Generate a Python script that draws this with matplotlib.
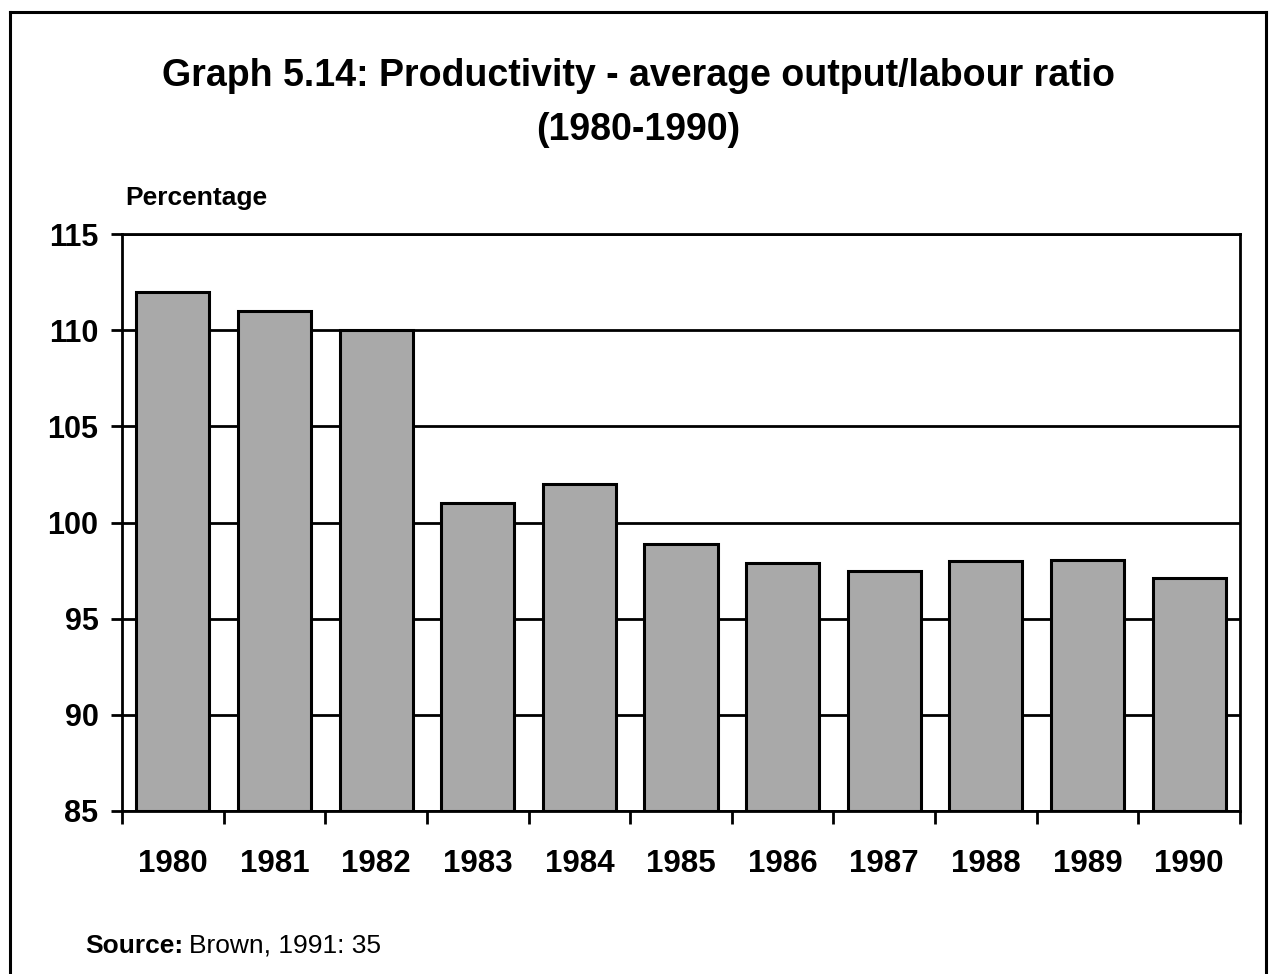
import matplotlib.pyplot as plt
from matplotlib.lines import Line2D
import numpy as np

plt.rcParams['font.family'] = ['Liberation Sans', 'DejaVu Sans']

years = ['1980', '1981', '1982', '1983', '1984', '1985',
         '1986', '1987', '1988', '1989', '1990']
ratio = [112.0, 111.0, 110.0, 101.0, 102.0, 98.9, 97.9, 97.5, 98.0, 98.05, 97.1]
yticks = [85, 90, 95, 100, 105, 110, 115]

W, H = 1271, 974
fig = plt.figure(figsize=(W / 100, H / 100), dpi=100)
ax = fig.add_axes([122 / W, 1 - 811 / H, (1240 - 122) / W, (811 - 234) / H])

x = np.arange(len(years))
ax.bar(x, np.array(ratio) - 85, bottom=85, width=0.72, color='#a9a9a9',
       edgecolor='black', linewidth=2.2, zorder=3)

ax.set_xlim(-0.5, len(years) - 0.5)
ax.set_ylim(85, 115)
ax.set_yticks(yticks)
ax.set_yticklabels([str(v) for v in yticks], fontsize=22, fontweight='bold')
ax.tick_params(axis='y', direction='out', length=8, width=2, pad=9)

ax.set_xticks(x)
ax.set_xticklabels(years, fontsize=22.5, fontweight='bold')
ax.tick_params(axis='x', which='major', length=0, pad=27)
ax.set_xticks(np.arange(len(years) + 1) - 0.5, minor=True)
ax.tick_params(axis='x', which='minor', direction='out', length=9, width=2)

ax.yaxis.grid(True, color='black', linewidth=2, zorder=1)
ax.set_axisbelow(True)
for s in ax.spines.values():
    s.set_linewidth(2)
    s.set_color('black')

fig.text(638 / W, 1 - 76 / H, 'Graph 5.14: Productivity - average output/labour ratio',
         ha='center', va='center', fontsize=27, fontweight='bold')
fig.text(638 / W, 1 - 130 / H, '(1980-1990)',
         ha='center', va='center', fontsize=27, fontweight='bold')
fig.text(125 / W, 1 - 198 / H, 'Percentage', ha='left', va='center',
         fontsize=19, fontweight='bold')

t = fig.text(85 / W, 1 - 946 / H, 'Source:', ha='left', va='center',
             fontsize=19, fontweight='bold')
fig.canvas.draw()
bb = t.get_window_extent()
fig.text((bb.x1 + 6) / W, 1 - 946 / H, 'Brown, 1991: 35', ha='left', va='center',
         fontsize=19)

# outer frame (left, top, right edges)
fx0, fx1, fy = 10 / W, 1266 / W, 1 - 12 / H
fig.add_artist(Line2D([fx0, fx0], [0, fy], color='black', lw=2.2))
fig.add_artist(Line2D([fx0, fx1], [fy, fy], color='black', lw=2.2))
fig.add_artist(Line2D([fx1, fx1], [0, fy], color='black', lw=2.2))

fig.savefig('out.png', dpi=100)
